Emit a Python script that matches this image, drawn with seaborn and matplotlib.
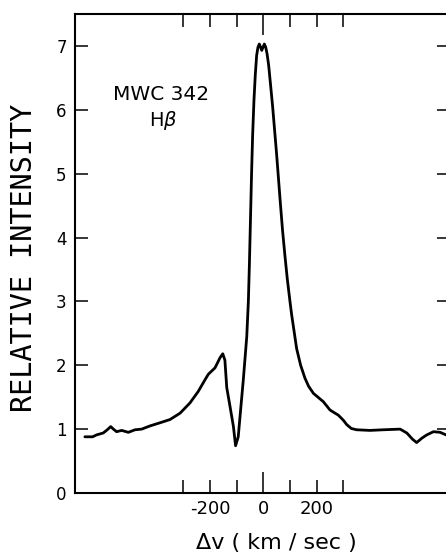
import matplotlib
matplotlib.use("Agg")
import matplotlib.pyplot as plt
import seaborn as sns
import pandas as pd

# H-beta profile of MWC 342: velocity offset (km/s) and relative intensity
velocity = [-669, -640, -625, -600, -585, -572, -562, -550, -531, -506,
            -481, -456, -425, -387, -350, -312, -275, -244, -219, -206,
            -181, -162, -152, -144, -137, -125, -112, -104, -94, -84,
            -75, -62, -56, -52, -48, -44, -40, -35, -30, -25,
            -20, -15, -10, -6, -2, 4, 9, 14, 20, 27,
            35, 42, 50, 63, 72, 81, 90, 100, 106, 125,
            140, 156, 170, 188, 225, 250, 265, 281, 300, 313,
            330, 350, 400, 450, 513, 538, 560, 575, 595, 613,
            638, 663, 685]
intensity = [0.88, 0.88, 0.91, 0.94, 0.99, 1.04, 1.00, 0.96, 0.98, 0.95,
             0.99, 1.00, 1.05, 1.10, 1.15, 1.25, 1.41, 1.59, 1.77, 1.86,
             1.96, 2.12, 2.18, 2.08, 1.65, 1.36, 1.04, 0.74, 0.88, 1.35,
             1.77, 2.45, 3.00, 3.60, 4.30, 5.00, 5.60, 6.15, 6.55, 6.85,
             6.98, 7.03, 6.98, 6.93, 6.97, 7.03, 6.98, 6.88, 6.70, 6.40,
             6.05, 5.70, 5.30, 4.59, 4.12, 3.72, 3.35, 3.00, 2.80, 2.26,
             2.00, 1.80, 1.67, 1.56, 1.43, 1.30, 1.26, 1.22, 1.14, 1.07,
             1.01, 0.99, 0.98, 0.99, 1.00, 0.94, 0.84, 0.79, 0.86, 0.91,
             0.96, 0.95, 0.91]

x_ticks = [-300, -200, -100, 0, 100, 200, 300]
x_tick_labels = ["", "-200", "", "0", "", "200", ""]
y_ticks = [0, 1, 2, 3, 4, 5, 6, 7]
y_tick_labels = ["0", "1", "2", "3", "4", "5", "6", "7"]

profile = pd.DataFrame({"velocity": velocity, "intensity": intensity})

sns.set_style("ticks")
plt.rcParams["font.family"] = ["DejaVu Sans"]
plt.rcParams["text.color"] = "black"
plt.rcParams["axes.labelcolor"] = "black"

fig = plt.figure(figsize=(4.46, 5.56), dpi=100)
ax = fig.add_axes([75 / 446, 1 - 493 / 556, (450 - 75) / 446, (493 - 14) / 556])

sns.lineplot(data=profile, x="velocity", y="intensity", ax=ax,
             color="black", linewidth=2.0, sort=False, estimator=None)

ax.set_xlim(-706, 700)
ax.set_ylim(0, 7.5)

ax.set_xticks(x_ticks)
ax.set_xticklabels(x_tick_labels)
ax.set_yticks(y_ticks)
ax.set_yticklabels(y_tick_labels)

for side in ["left", "right", "top", "bottom"]:
    ax.spines[side].set_visible(True)
    ax.spines[side].set_linewidth(1.5)
    ax.spines[side].set_color("black")

ax.tick_params(axis="both", direction="in", length=9.5, width=1.1,
               color="black", labelcolor="black",
               top=True, right=True, labelright=False, labeltop=False)
ax.tick_params(axis="x", pad=5, labelsize=13)
ax.tick_params(axis="y", pad=6, labelsize=12)

# longer tick marking zero velocity, top and bottom
for tick in ax.xaxis.get_major_ticks():
    if tick.get_loc() == 0:
        tick.tick1line.set_markersize(15)
        tick.tick2line.set_markersize(15)

ax.set_xlabel("Δv ( km / sec )", fontsize=16, color="black")
ax.xaxis.set_label_coords(0.536, -0.104)
ax.xaxis.label.set_va("center")

ax.set_ylabel("RELATIVE INTENSITY", fontsize=20.5, color="black",
              family=["DejaVu Sans Mono"])
ax.yaxis.set_label_coords(-0.135, 0.49)
ax.yaxis.label.set_va("center")

ax.text(-384, 6.24, "MWC 342", ha="center", va="center",
        fontsize=14.5, color="black")
ax.text(-376, 5.83, "H$\\beta$", ha="center", va="center",
        fontsize=14, color="black")

fig.savefig("out.png", dpi=100)
